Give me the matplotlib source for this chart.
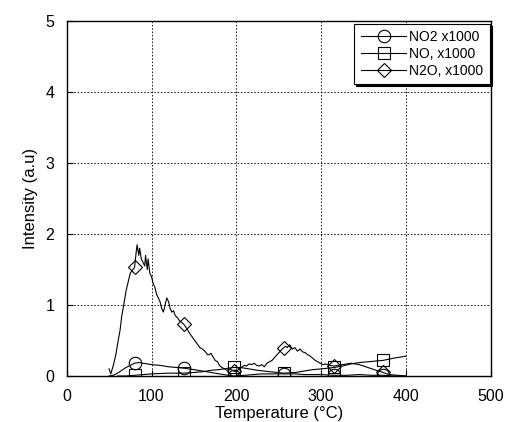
import matplotlib
matplotlib.use("Agg")
import matplotlib.pyplot as plt

plt.rcParams["font.family"] = ["Liberation Sans", "DejaVu Sans"]

# marker positions shared by the three traces
marks = [80, 138, 197, 256, 315, 373]

no2_t = [50, 55, 60, 65, 70, 75, 80, 85, 90, 95, 100, 110, 120, 130, 138, 150, 160, 170,
         180, 190, 197, 210, 220, 230, 240, 256, 270, 280, 290, 300, 315, 330, 345, 360,
         373, 385, 400]
no2 = [0.0, 0.01, 0.04, 0.08, 0.12, 0.15, 0.18, 0.19, 0.18, 0.17, 0.16, 0.15, 0.13, 0.12,
       0.11, 0.09, 0.07, 0.05, 0.03, 0.01, 0.0, 0.01, 0.02, 0.03, 0.03, 0.03, 0.03, 0.02,
       0.02, 0.02, 0.01, 0.01, 0.02, 0.01, 0.01, 0.0, 0.0]

no_t = [60, 70, 80, 90, 100, 120, 138, 150, 160, 170, 180, 190, 197, 205, 215, 225, 240,
        256, 270, 280, 290, 300, 315, 325, 335, 345, 355, 373, 385, 395, 400]
no = [0.0, 0.0, 0.01, 0.02, 0.03, 0.04, 0.04, 0.05, 0.06, 0.08, 0.09, 0.11, 0.12, 0.12,
      0.1, 0.08, 0.06, 0.04, 0.05, 0.07, 0.09, 0.1, 0.12, 0.14, 0.17, 0.19, 0.2, 0.22,
      0.25, 0.27, 0.28]

n2o_t = [50, 52, 55, 58, 60, 63, 65, 68, 70, 73, 75, 80, 82, 83, 85, 86, 88, 90, 92, 93,
         95, 96, 98, 100, 102, 104, 106, 108, 110, 112, 114, 116, 118, 120, 122, 124, 126,
         128, 130, 133, 138, 142, 145, 148, 151, 154, 157, 160, 163, 166, 168, 170, 172,
         175, 178, 180, 183, 186, 189, 192, 197, 200, 203, 206, 209, 212, 215, 218, 221,
         224, 227, 230, 233, 236, 239, 242, 245, 248, 251, 254, 256, 258, 260, 263, 266,
         269, 272, 275, 278, 281, 284, 287, 290, 293, 296, 299, 302, 305, 310, 315, 320,
         325, 330, 335, 340, 345, 350, 355, 360, 365, 373, 380, 390, 400]
n2o = [0.1, 0.03, 0.15, 0.3, 0.45, 0.65, 0.85, 1.05, 1.2, 1.35, 1.45, 1.53, 1.75, 1.85,
       1.7, 1.8, 1.65, 1.6, 1.55, 1.7, 1.5, 1.65, 1.45, 1.4, 1.3, 1.25, 1.15, 1.1, 1.05,
       0.95, 0.9, 1.0, 1.1, 1.05, 0.95, 0.9, 0.92, 0.85, 0.83, 0.78, 0.73, 0.66, 0.6,
       0.55, 0.5, 0.45, 0.4, 0.38, 0.35, 0.3, 0.3, 0.32, 0.28, 0.22, 0.2, 0.15, 0.12,
       0.1, 0.08, 0.1, 0.07, 0.06, 0.1, 0.12, 0.15, 0.14, 0.17, 0.16, 0.18, 0.15, 0.14,
       0.16, 0.13, 0.18, 0.2, 0.22, 0.26, 0.3, 0.34, 0.38, 0.4, 0.42, 0.4, 0.44, 0.38,
       0.4, 0.35, 0.38, 0.34, 0.33, 0.3, 0.28, 0.25, 0.22, 0.2, 0.18, 0.16, 0.17, 0.15,
       0.14, 0.15, 0.16, 0.17, 0.18, 0.17, 0.16, 0.14, 0.12, 0.1, 0.08, 0.05, 0.02, 0.01,
       0.0]

labels = ["NO2 x1000", "NO, x1000", "N2O, x1000"]

fig = plt.figure(figsize=(5.05, 4.22), dpi=100)
ax = fig.add_axes([0.132, 0.109, 0.840, 0.841])

series = [(no2_t, no2, "o"), (no_t, no, "s"), (n2o_t, n2o, "D")]
for (t, y, m), lab in zip(series, labels):
    idx = [t.index(v) for v in marks if v in t]
    ax.plot(t, y, color="black", lw=0.8, marker=m, markevery=idx,
            markersize=9 if m != "D" else 7, markerfacecolor="none",
            markeredgecolor="black", markeredgewidth=0.8, label=lab)

ax.set_xlim(0, 500)
ax.set_ylim(0, 5)
ax.set_xticks(range(0, 501, 100))
ax.set_yticks(range(0, 6))
ax.grid(True, color="black", linestyle=(0, (2, 2)), linewidth=0.6)
ax.tick_params(direction="in", length=4, width=0.8, labelsize=11.5, pad=9)
for s in ax.spines.values():
    s.set_linewidth(1.0)

ax.set_xlabel("Temperature (°C)", fontsize=12, labelpad=2)
ax.set_ylabel("Intensity (a.u)", fontsize=12, labelpad=5)

leg = ax.legend(loc="upper right", bbox_to_anchor=(0.997, 0.992), fontsize=10,
                fancybox=False, shadow={"color": "black", "alpha": 1.0, "ox": 1.5, "oy": -1.5},
                edgecolor="black", framealpha=1, numpoints=1,
                handlelength=3.3, handletextpad=0.2, borderpad=0.45,
                labelspacing=0.2, borderaxespad=0.0)
leg.get_frame().set_linewidth(0.8)

fig.savefig("out.png", dpi=100)
